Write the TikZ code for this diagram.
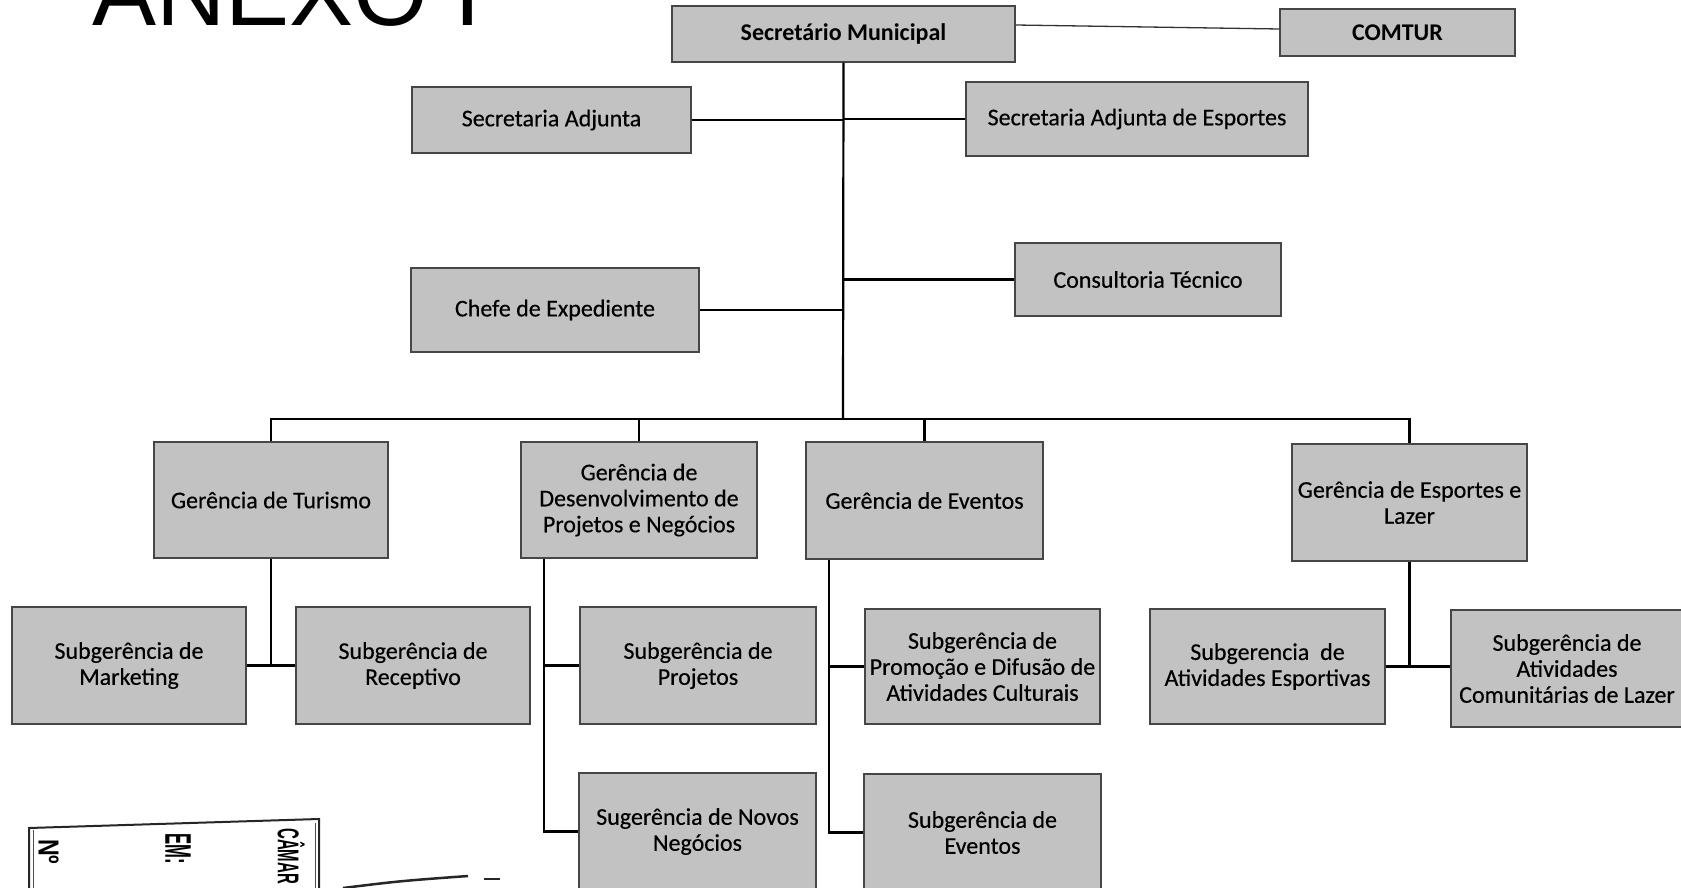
\documentclass[tikz,border=0pt]{standalone}
\usepackage{fontspec}
\setmainfont{Carlito}
\newfontfamily\boxfont{Carlito}[FakeBold=0.35]
\newfontfamily\arialf{Liberation Sans}
\definecolor{boxfill}{RGB}{194,194,194}
\definecolor{boxline}{RGB}{70,70,70}
\tikzset{
  box/.style={draw=boxline, line width=1.4pt, fill=boxfill, align=center,
    inner sep=2pt, font=\boxfont\fontsize{24}{26}\selectfont},
  boldbox/.style={box, font=\fontsize{24}{26}\selectfont\bfseries},
  conn/.style={line width=2.2pt, black},
  thinconn/.style={line width=1.3pt, black!80},
  stamptext/.style={rotate=-90, anchor=north west, inner sep=0pt}
}
\begin{document}
\begin{tikzpicture}[x=1pt,y=-1pt]
\useasboundingbox (0,0) rectangle (1681,888);
\clip (0,0) rectangle (1681,888);
\fill[white] (0,0) rectangle (1681,888);

% title
\node[anchor=base west, inner sep=0pt, font=\arialf\fontsize{96}{100}\selectfont] (title) at (92,26) {ANEXO I};

% boxes
\node[boldbox, minimum width=343pt, minimum height=56pt] (SM) at (843.5,34) {Secretário Municipal};
\node[boldbox, minimum width=235pt, minimum height=47pt] (COMTUR) at (1397.5,32.5) {COMTUR};
\node[box, minimum width=279pt, minimum height=66pt] (SA) at (551.5,120) {Secretaria Adjunta};
\node[box, minimum width=342pt, minimum height=74pt] (SAE) at (1137,119) {Secretaria Adjunta de Esportes};
\node[box, minimum width=266pt, minimum height=73pt] (CT) at (1148,279.5) {Consultoria Técnico};
\node[box, minimum width=288pt, minimum height=84pt] (CE) at (555,310) {Chefe de Expediente};

\node[box, minimum width=234pt, minimum height=116pt] (GT) at (271,500) {Gerência de Turismo};
\node[box, minimum width=236pt, minimum height=116pt] (GD) at (639,500) {Gerência de\\Desenvolvimento de\\Projetos e Negócios};
\node[box, minimum width=237pt, minimum height=117pt] (GE) at (924.5,500.5) {Gerência de Eventos};
\node[box, minimum width=235pt, minimum height=117pt] (GEL) at (1409.5,502.5) {Gerência de Esportes e\\Lazer};

\node[box, minimum width=234pt, minimum height=117pt] (SMk) at (129,665.5) {Subgerência de\\Marketing};
\node[box, minimum width=234pt, minimum height=117pt] (SR) at (413,665.5) {Subgerência de\\Receptivo};
\node[box, minimum width=236pt, minimum height=117pt] (SP) at (698,665.5) {Subgerência de\\Projetos};
\node[box, minimum width=235pt, minimum height=115pt] (SPD) at (982.5,666.5) {Subgerência de\\Promoção e Difusão de\\Atividades Culturais};
\node[box, minimum width=235pt, minimum height=115pt] (SAEsp) at (1267.5,666.5) {Subgerencia\ \ de\\Atividades Esportivas};
\node[box, minimum width=232pt, minimum height=117pt] (SAC) at (1567,668.5) {Subgerência de\\Atividades\\Comunitárias de Lazer};
\node[box, minimum width=237pt, minimum height=117pt] (SNN) at (697.5,831.5) {Sugerência de Novos\\Negócios};
\node[box, minimum width=237pt, minimum height=117pt] (SEv) at (982.5,832.5) {Subgerência de\\Eventos};

% connectors
\coordinate (bus) at (843,419);
\draw[thinconn] ([yshift=9pt]SM.east) -- ([yshift=3.5pt]COMTUR.west);
\draw[conn] (SM.south) -- (bus);
\draw[conn] (SA.east) -- (SA.east -| SM.south);
\draw[conn] (SAE.west) -- (SAE.west -| SM.south);
\draw[conn] (CT.west) -- (CT.west -| SM.south);
\draw[conn] (CE.east) -- (CE.east -| SM.south);

\draw[conn] (GT.north) -- (GT.north |- bus) -- (GEL.north |- bus) -- (GEL.north);
\draw[conn] (GD.north) -- (GD.north |- bus);
\draw[conn] (GE.north) -- (GE.north |- bus);

\draw[conn] (GT.south) -- (GT.south |- SMk.east);
\draw[conn] (SMk.east) -- (SR.west);

\coordinate (gdv) at ([xshift=24pt]GD.south west);
\draw[conn] (gdv) -- (gdv |- SNN.west) -- (SNN.west);
\draw[conn] (SP.west) -- (SP.west -| gdv);

\coordinate (gev) at ([xshift=24pt]GE.south west);
\draw[conn] (gev) -- (gev |- SEv.west) -- (SEv.west);
\draw[conn] (SPD.west) -- (SPD.west -| gev);

\draw[conn] (GEL.south) -- (GEL.south |- SAEsp.east);
\draw[conn] (SAEsp.east) -- (SAC.west |- SAEsp.east);

% stamp
\draw[line width=2pt, black!85] (29,892) -- (29,828) -- (319,819) -- (319,892);
\draw[line width=1pt, black!70] (33,892) -- (33,830);
\draw[line width=1pt, black!70] (315,892) -- (315,823);
\node[stamptext, font=\arialf\bfseries\fontsize{29}{30}\selectfont] (stN) at (59,839) {\scalebox{0.8}[1]{Nº}};
\node[stamptext, font=\arialf\bfseries\fontsize{37}{38}\selectfont] (stEM) at (191,833) {\scalebox{0.45}[1]{EM:}};
\node[stamptext, font=\arialf\bfseries\fontsize{30}{32}\selectfont] (stC) at (305,828) {\scalebox{0.5}[1]{CÂMAR}};
\draw[line width=2.5pt, black!85] (343,888) .. controls (400,881) .. (468,876);
\draw[line width=2pt, black!85] (484,879) -- (500,879);
\end{tikzpicture}
\end{document}
